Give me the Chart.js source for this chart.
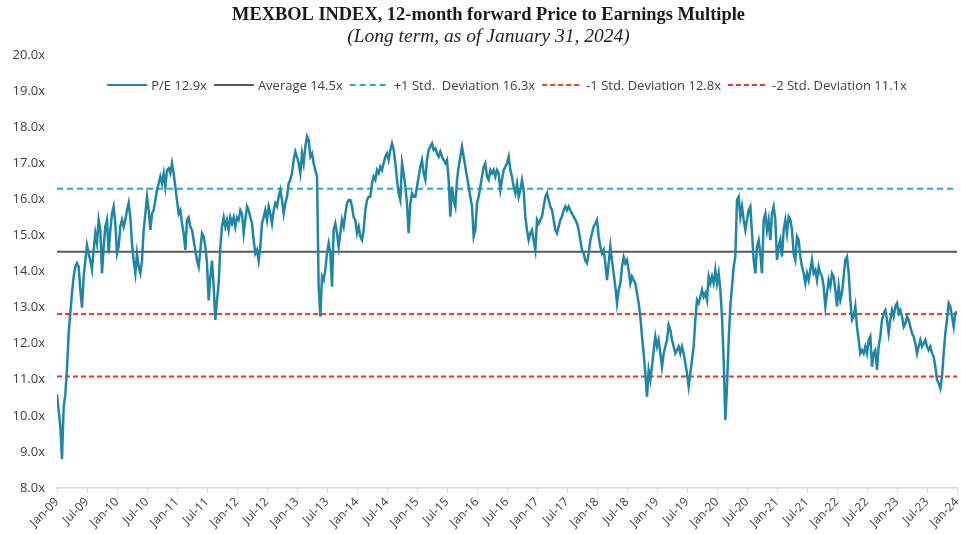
<!DOCTYPE html>
<html><head><meta charset="utf-8">
<script src="https://cdn.jsdelivr.net/npm/chart.js@4.4.1/dist/chart.umd.min.js"></script>
<style>html,body{margin:0;padding:0;background:#fff;}</style>
</head><body>
<canvas id="c" width="961" height="534"></canvas>
<script>
// ---- DATA ----
const tickLabels = ['Jan-09','Jul-09','Jan-10','Jul-10','Jan-11','Jul-11','Jan-12','Jul-12','Jan-13','Jul-13',
  'Jan-14','Jul-14','Jan-15','Jul-15','Jan-16','Jul-16','Jan-17','Jul-17','Jan-18','Jul-18',
  'Jan-19','Jul-19','Jan-20','Jul-20','Jan-21','Jul-21','Jan-22','Jul-22','Jan-23','Jul-23','Jan-24'];
const monthsPerPoint = 1/3;   // P/E readings every third of a month, starting Jan-09
const pe2009_2011 = [10.6,10.16,9.7,8.8,10.25,10.6,11.3,12.3,12.85,13.4,
  13.86,14.13,14.23,14.13,13.5,13.0,13.86,14.3,14.73,14.5,
  14.3,14.05,14.6,15.06,14.78,15.43,15.15,13.95,14.69,15.25,
  15.43,14.5,15.15,15.6,15.8,15.33,14.5,14.69,15.24,15.43,
  15.24,15.43,15.7,15.9,15.5,14.78,14.3,13.95,14.5,14.13,
  13.95,14.3,15.15,15.6,16.07,15.7,15.15,15.6,15.7,15.98,
  16.26,16.44,16.63,16.44,16.72,16.35,16.81,16.86,16.72,17.0,
  16.72,16.35,15.98,15.6,15.7,15.33,15.06,14.6,15.43,15.5,
  15.24,15.15,14.87,14.6,14.3,14.13,14.6,15.06,14.97,14.69,
  14.23,13.2,13.86,14.3,13.58,12.66,13.2,13.67,14.69,15.24,
  15.5,15.24,15.43,15.15,15.5,15.33,15.5];
const pe2012_2014 = [15.24,15.5,15.43,15.7,15.6,15.06,15.43,15.8,15.7,15.5,
  15.33,14.87,14.5,14.6,14.3,14.69,15.33,15.5,15.7,15.43,
  15.8,15.6,15.33,15.7,15.89,15.8,16.07,16.26,15.98,15.6,
  15.89,16.07,16.44,16.54,16.72,17.09,17.32,17.18,17.0,16.72,
  17.27,17.0,17.46,17.74,17.64,17.18,17.27,17.0,16.81,16.63,
  13.6,12.75,13.86,13.76,14.05,14.5,14.78,14.5,13.58,15.15,
  15.33,15.06,14.69,15.06,15.43,15.24,15.6,15.89,15.98,15.98,
  15.8,15.5,15.43,15.06,15.24,14.97,14.87,15.15,15.7,15.98,
  16.07,16.07,16.44,16.63,16.54,16.81,16.72,16.9,16.81,17.0,
  17.18,17.27,17.09,17.37,17.55,17.37,17.0,16.54,16.17,15.98,
  17.0,16.72,16.35,15.89,15.06,15.89,16.17,16.07];
const pe2015_2017 = [16.07,16.35,16.63,16.9,17.09,16.72,16.54,17.09,17.37,17.46,
  17.55,17.37,17.41,17.27,17.18,17.32,17.18,17.09,17.0,17.09,
  16.54,15.52,16.35,15.98,15.8,16.54,16.9,17.18,17.46,17.18,
  16.9,16.63,16.35,16.07,15.8,14.97,15.15,15.89,16.07,16.35,
  16.63,16.9,17.0,16.63,16.54,16.81,16.72,16.81,16.63,16.81,
  16.72,16.26,16.54,16.81,16.9,17.0,17.18,16.81,16.63,16.35,
  16.17,16.44,16.07,16.26,16.54,16.26,15.52,15.15,14.87,15.06,
  15.15,14.87,14.6,15.43,15.33,15.43,15.52,15.8,16.07,16.17,
  15.98,15.8,15.7,15.43,15.15,15.06,15.24,15.43,15.52,15.7,
  15.8,15.7,15.8,15.7,15.6,15.52,15.43,15.33,15.15,14.87,
  14.6,14.5,14.3,14.23,14.5,14.87,15.06,15.24];
const pe2018_2020 = [15.33,15.43,14.97,14.69,14.5,14.6,14.23,13.76,14.23,14.69,
  14.3,13.95,13.58,13.12,13.49,13.67,14.13,14.4,14.23,14.32,
  14.04,13.67,13.86,13.76,13.67,13.4,13.12,12.75,12.2,11.73,
  11.18,10.53,11.27,11.0,11.36,11.82,12.2,11.92,12.1,11.73,
  11.36,11.73,11.92,12.1,12.52,12.38,12.1,11.92,11.73,11.82,
  11.92,11.73,11.92,11.73,11.45,11.18,10.81,11.18,11.55,11.92,
  12.66,13.21,13.12,13.3,13.49,13.3,13.4,13.21,13.86,13.67,
  13.86,13.67,14.04,13.67,13.95,13.49,12.75,11.55,9.88,10.81,
  12.1,13.03,13.58,14.13,14.41,15.98,16.07,15.52,15.8,15.43,
  15.15,15.43,15.7,15.8,15.06,14.32,13.95,14.69,14.87,14.5,
  13.95,15.43,15.6,15.15,15.43,14.87,15.6,15.8];
const pe2021_2024 = [15.43,14.32,14.69,14.87,14.41,15.15,15.43,15.06,15.52,15.43,
  15.15,14.5,14.32,14.97,14.87,14.41,14.13,13.95,13.67,13.95,
  13.76,14.04,14.32,13.95,14.04,13.76,14.13,13.95,13.86,13.58,
  13.03,13.4,13.76,13.58,13.95,13.86,13.49,13.03,13.58,13.21,
  13.4,13.86,14.32,14.41,13.95,13.21,12.66,12.75,13.03,12.47,
  12.1,11.73,11.82,11.73,11.92,11.73,12.1,12.2,11.36,11.73,
  11.82,11.27,11.92,12.2,12.66,12.84,12.93,12.66,12.29,12.66,
  12.93,12.75,13.03,13.12,12.84,12.93,12.75,12.47,12.56,12.75,
  12.66,12.47,12.29,12.2,12.01,11.73,11.92,12.1,11.92,12.01,
  12.1,11.92,11.82,11.92,11.73,11.64,11.36,11.0,10.9,10.76,
  11.09,11.73,12.29,12.66,13.12,13.03,12.75,12.47,12.84,12.9];
const refLabels = ['Average 14.5x', '+1 Std.  Deviation 16.3x', '-1 Std. Deviation 12.8x', '-2 Std. Deviation 11.1x'];
const refLevels = [14.55, 16.29, 12.82, 11.09];
const peLabel = 'P/E 12.9x';

// ---- BUILD ----
const peValues = [].concat(pe2009_2011, pe2012_2014, pe2015_2017, pe2018_2020, pe2021_2024);
const peData = peValues.map((v, i) => ({x: i * monthsPerPoint, y: v}));
const lastMonth = (tickLabels.length - 1) * 6;
const refColors = ['#595959', '#2aa6d6', '#f2421f', '#e8391d'];
const refDashes = [[], [6, 4], [5, 3], [5, 3]];

const LEGEND_FONT = "13px 'Liberation Sans Narrow', 'Open Sans', sans-serif";
const TICK_FONT = {family: "'Liberation Sans Narrow', 'Open Sans', sans-serif", size: 13};
const TITLE_SHIFT = 16;

const insideLegend = {
  id: 'insideLegend',
  afterLayout(chart) {
    // shift title/subtitle blocks a bit right to centre them like the original
    chart.boxes.forEach(b => {
      if (b.position === 'top' && b.options && typeof b.options.text === 'string') {
        b.left += TITLE_SHIFT;
      }
    });
  },
  afterDatasetsDraw(chart) {
    const ctx = chart.ctx, area = chart.chartArea;
    const ds = chart.data.datasets;
    const sample = 40, gapA = 4, gapB = 7;
    ctx.save();
    ctx.font = LEGEND_FONT;
    const widths = ds.map(d => ctx.measureText(d.label).width);
    let total = widths.reduce((a, w) => a + sample + gapA + w + gapB, 0) - gapB;
    let x = (area.left + area.right) / 2 - total / 2;
    const y = area.top + 30;
    ds.forEach((d, i) => {
      ctx.beginPath();
      ctx.strokeStyle = d.borderColor;
      ctx.lineWidth = Math.min(d.borderWidth, 2);
      ctx.setLineDash(d.borderDash || []);
      ctx.moveTo(x, y); ctx.lineTo(x + sample, y); ctx.stroke();
      ctx.setLineDash([]);
      x += sample + gapA;
      ctx.fillStyle = '#404040';
      ctx.textBaseline = 'middle';
      ctx.textAlign = 'left';
      ctx.fillText(d.label, x, y + 1);
      x += widths[i] + gapB;
    });
    ctx.restore();
  }
};

const datasets = [{
  label: peLabel, data: peData, borderColor: '#2086a6', borderWidth: 2.5,
  pointRadius: 0, tension: 0, order: 0
}];
refLevels.forEach((lvl, i) => {
  datasets.push({
    label: refLabels[i], data: [{x: 0, y: lvl}, {x: lastMonth, y: lvl}],
    borderColor: refColors[i], borderDash: refDashes[i], borderWidth: 2,
    pointRadius: 0, order: 1
  });
});

new Chart(document.getElementById('c'), {
  type: 'line',
  data: {datasets},
  options: {
    responsive: false, animation: false,
    layout: {padding: {left: 0, right: 0, top: 0, bottom: 0}},
    plugins: {
      legend: {display: false},
      tooltip: {enabled: false},
      title: {display: true, text: 'MEXBOL INDEX, 12-month forward Price to Earnings Multiple',
        color: '#1a1a1a', font: {family: "'Liberation Serif', serif", size: 18.4, weight: 'bold', lineHeight: 1.1},
        padding: {top: 5, bottom: 2}},
      subtitle: {display: true, text: '(Long term, as of January 31, 2024)',
        color: '#262626', font: {family: "'Liberation Serif', serif", size: 19.5, style: 'italic', lineHeight: 1.0},
        padding: {top: 0, bottom: 8.26}}
    },
    scales: {
      x: {
        type: 'linear', min: 0, max: lastMonth,
        grid: {drawOnChartArea: false, drawTicks: true, tickLength: 5, color: '#d6dbe0'},
        border: {display: true, color: '#d6dbe0', width: 1.5},
        ticks: {stepSize: 6, autoSkip: false, maxRotation: 45, minRotation: 45, padding: 2,
          color: '#404040', font: {family: TICK_FONT.family, size: 12},
          callback: (v) => tickLabels[Math.round(v / 6)]},
        afterFit: (s) => { s.height = 46; s.paddingRight = 4; s.paddingLeft = 0; }
      },
      y: {
        min: 8, max: 20,
        grid: {display: false},
        border: {display: false},
        ticks: {stepSize: 1, padding: 4, color: '#404040', font: TICK_FONT,
          callback: (v) => v.toFixed(1) + 'x'},
        afterFit: (s) => { s.width = 57; }
      }
    }
  },
  plugins: [insideLegend]
});
</script>
</body></html>
